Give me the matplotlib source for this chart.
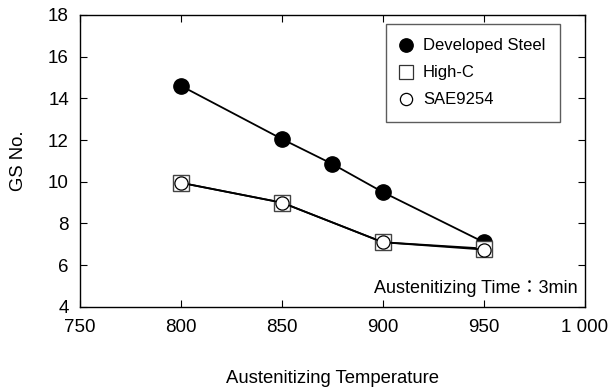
import matplotlib
matplotlib.use('Agg')
import matplotlib.pyplot as plt
from matplotlib.lines import Line2D

plt.rcParams['font.family'] = ['Liberation Sans', 'DejaVu Sans']

# grain size number vs. austenitizing temperature
temp_dev = [800, 850, 875, 900, 950]
gs_dev = [14.6, 12.05, 10.85, 9.5, 7.1]

temp_hc = [800, 850, 900, 950]
gs_hc = [9.95, 9.0, 7.1, 6.8]

temp_sae = [800, 850, 900, 950]
gs_sae = [9.95, 9.0, 7.1, 6.75]

xticks = [750, 800, 850, 900, 950, 1000]
xtick_labels = ['750', '800', '850', '900', '950', '1 000']
yticks = [4, 6, 8, 10, 12, 14, 16, 18]

fig = plt.figure(figsize=(6.12, 3.92), dpi=100)
ax = fig.add_axes([0.1307, 0.217, 0.825, 0.745])

ax.plot(temp_dev, gs_dev, color='black', lw=1.3, marker='o', ms=11,
        mfc='black', mec='black', zorder=3)
ax.plot(temp_hc, gs_hc, color='black', lw=1.3, marker='s', ms=12,
        mfc='white', mec='#444444', mew=1.0, zorder=3)
ax.plot(temp_sae, gs_sae, color='black', lw=1.3, marker='o', ms=9.5,
        mfc='white', mec='black', mew=0.9, zorder=4)

ax.set_xlim(750, 1000)
ax.set_ylim(4, 18)
ax.set_xticks(xticks)
ax.set_xticklabels(xtick_labels)
ax.set_yticks(yticks)
ax.tick_params(direction='in', length=5, width=0.8, labelsize=13.5,
               top=True, right=True, pad=8)
ax.tick_params(axis='x', pad=9)
for s in ax.spines.values():
    s.set_linewidth(1.0)

ax.set_xlabel('Austenitizing Temperature', fontsize=13.3, labelpad=24)
ax.set_ylabel('GS No.', fontsize=13.3, labelpad=15)

# legend markers without connecting lines
handles = [
    Line2D([], [], ls='none', marker='o', ms=9.6, mfc='black', mec='black'),
    Line2D([], [], ls='none', marker='s', ms=9.6, mfc='white', mec='#333333', mew=0.9),
    Line2D([], [], ls='none', marker='o', ms=8.8, mfc='white', mec='black', mew=0.9),
]
leg = ax.legend(handles, ['Developed Steel', 'High-C', 'SAE9254'],
                loc='upper right', bbox_to_anchor=(0.95, 0.968), fontsize=12,
                frameon=True, fancybox=False, edgecolor='#333333',
                handlelength=0.8, handletextpad=0.6, borderpad=0.85,
                labelspacing=0.72, borderaxespad=0)
leg.get_frame().set_linewidth(1.0)

ax.text(0.985, 0.035, 'Austenitizing Time：3min', transform=ax.transAxes,
        ha='right', va='bottom', fontsize=13,
        family=['Liberation Sans', 'Noto Sans CJK JP', 'DejaVu Sans'])

fig.savefig('out.png', dpi=100)
